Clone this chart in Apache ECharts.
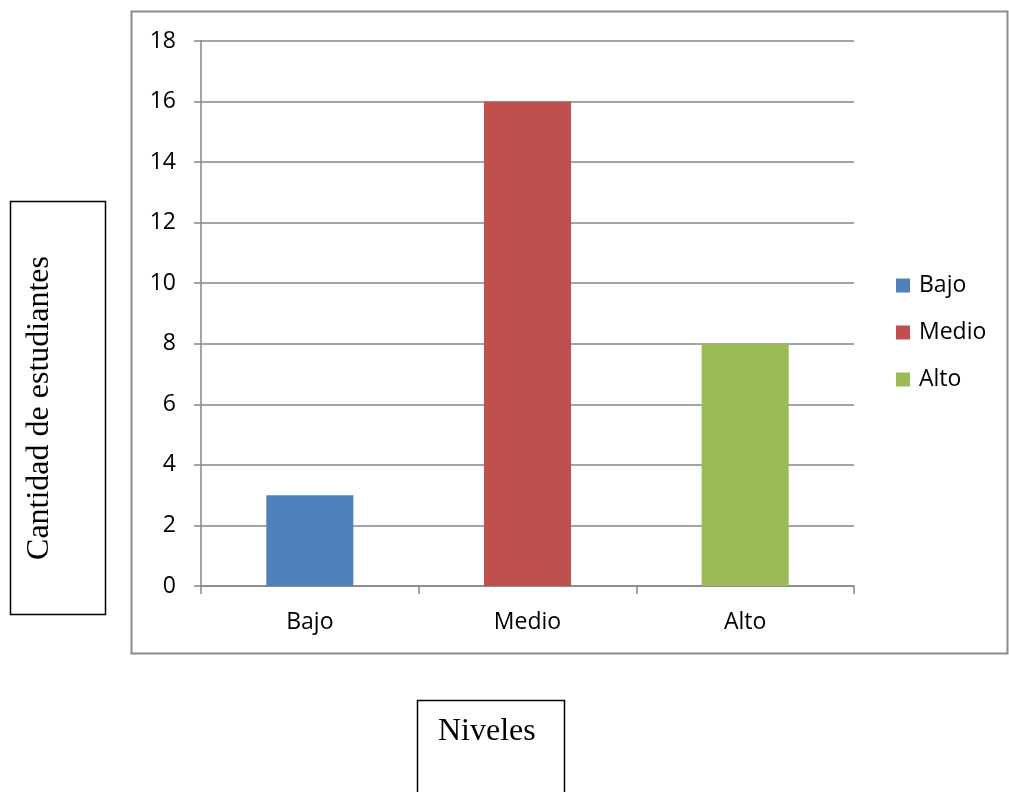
<!DOCTYPE html>
<html>
<head>
<meta charset="utf-8">
<script src="https://cdn.jsdelivr.net/npm/echarts@6/dist/echarts.min.js"></script>
<style>
  html, body { margin: 0; padding: 0; background: #ffffff; }
  #chart { width: 1009px; height: 792px; }
</style>
</head>
<body>
<div id="chart"></div>
<script>
// Niveles de los estudiantes
const categories = ['Bajo', 'Medio', 'Alto'];
const values = [3, 16, 8];
const colors = ['#4F81BD', '#C0504D', '#9BBB59'];
const yTicks = { min: 0, max: 18, interval: 2 };

const sansFont = '"Open Sans", "Noto Sans", sans-serif';
const serifFont = '"Liberation Serif", "DejaVu Serif", serif';

// One series per level so each gets its own legend entry; stacking keeps bars centred
const series = categories.map((name, i) => ({
  name: name,
  type: 'bar',
  stack: 'niveles',
  barWidth: '40%',
  itemStyle: { color: colors[i] },
  data: categories.map((_, j) => (j === i ? values[i] : '-'))
}));

const chart = echarts.init(document.getElementById('chart'), null, { renderer: 'canvas' });
chart.setOption({
  animation: false,
  backgroundColor: '#ffffff',
  grid: { left: 201, right: 155, top: 41, bottom: 206, containLabel: false },
  legend: {
    orient: 'vertical',
    left: 891,
    top: 269,
    itemWidth: 14,
    itemHeight: 14,
    itemGap: 24,
    icon: 'rect',
    textStyle: { fontFamily: sansFont, fontSize: 23, color: '#000000', padding: [0, 0, 0, 4] },
    data: categories
  },
  xAxis: {
    type: 'category',
    data: categories,
    axisLine: { lineStyle: { color: '#868686', width: 1.5 } },
    axisTick: { show: true, length: 8, inside: false, alignWithLabel: false, lineStyle: { color: '#868686', width: 1.5 } },
    axisLabel: { fontFamily: sansFont, fontSize: 23, color: '#000000', margin: 25 }
  },
  yAxis: {
    type: 'value',
    min: yTicks.min,
    max: yTicks.max,
    interval: yTicks.interval,
    axisLine: { show: true, lineStyle: { color: '#868686', width: 1.5 } },
    axisTick: { show: true, length: 7, lineStyle: { color: '#868686', width: 1.5 } },
    axisLabel: { fontFamily: sansFont, fontSize: 23, color: '#000000', margin: 25 },
    splitLine: { show: true, lineStyle: { color: '#868686', width: 1.5 } }
  },
  series: series,
  graphic: [
    // outer chart frame
    {
      type: 'rect',
      shape: { x: 131.5, y: 11.5, width: 876, height: 642 },
      style: { fill: 'none', stroke: '#8c8c8c', lineWidth: 2 },
      z: -1
    },
    // y-axis title box
    {
      type: 'rect',
      shape: { x: 10.5, y: 201.5, width: 95, height: 413 },
      style: { fill: '#ffffff', stroke: '#000000', lineWidth: 1.5 }
    },
    {
      type: 'text',
      x: 40,
      y: 408,
      rotation: Math.PI / 2,
      style: {
        text: 'Cantidad de estudiantes',
        font: '32px ' + serifFont,
        fill: '#000000',
        align: 'center',
        verticalAlign: 'middle'
      }
    },
    // x-axis title box
    {
      type: 'rect',
      shape: { x: 417.5, y: 700.5, width: 147, height: 110 },
      style: { fill: '#ffffff', stroke: '#000000', lineWidth: 1.5 }
    },
    {
      type: 'text',
      x: 438,
      y: 732,
      style: {
        text: 'Niveles',
        font: '32px ' + serifFont,
        fill: '#000000',
        align: 'left',
        verticalAlign: 'middle'
      }
    }
  ]
});
</script>
</body>
</html>
